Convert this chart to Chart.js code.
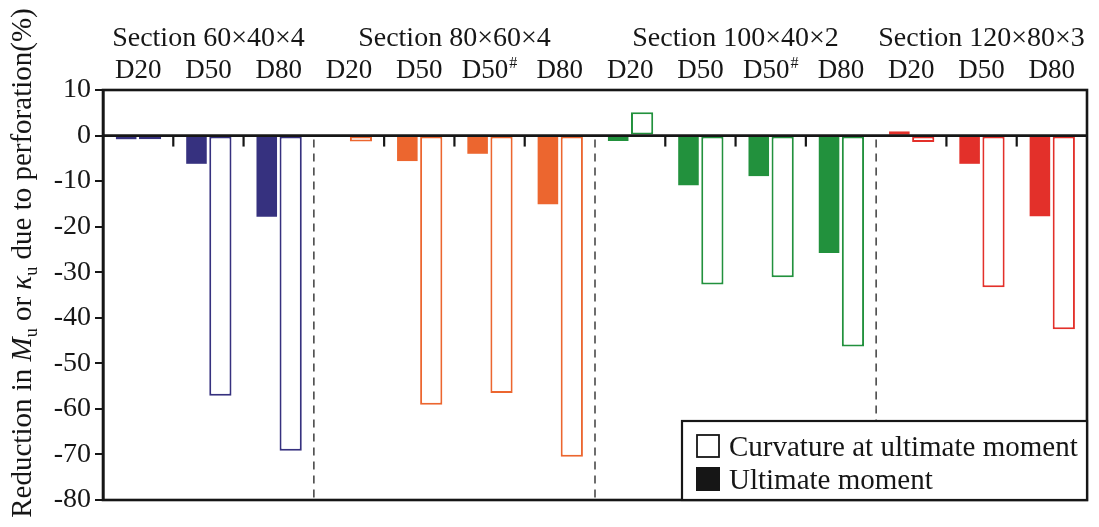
<!DOCTYPE html>
<html>
<head>
<meta charset="utf-8">
<script src="https://cdn.jsdelivr.net/npm/chart.js@4/dist/chart.umd.min.js"></script>
<style>
  html, body { margin: 0; padding: 0; background: #ffffff; }
  #wrap { width: 1099px; height: 527px; position: relative; }
</style>
</head>
<body>
<div id="wrap"><canvas id="chart"></canvas></div>
<script>
// categories (left to right) and the section each block belongs to
const categories = ["D20", "D50", "D80", "D20", "D50", "D50#", "D80", "D20", "D50", "D50#", "D80", "D20", "D50", "D80"];
const sectionNames = ["Section 60\u00d740\u00d74", "Section 80\u00d760\u00d74", "Section 100\u00d740\u00d72", "Section 120\u00d780\u00d73"];
const sectionCounts = [3, 4, 4, 3];
const sectionColors = ["#36317f", "#ec662f", "#22913d", "#e3302a"];

// reduction (%)
const ultimateMoment = [-0.8, -6.2, -17.8, -0.3, -5.6, -4.0, -15.1, -1.2, -10.9, -8.9, -25.8, 0.9, -6.2, -17.7];
const curvature = [-0.8, -57.1, -69.2, -1.3, -59.1, -56.5, -70.5, 5.1, -32.7, -31.1, -46.3, -1.4, -33.3, -42.5];

const yMin = -80;
const yMax = 10;
const yStep = 10;

const legendLabels = ["Curvature at ultimate moment", "Ultimate moment"];

const FONT = "'Liberation Serif', 'Times New Roman', serif";
const INK = "#161616";

// colour for each bar from its section
const barColors = [];
sectionCounts.forEach((n, s) => {
    for (let i = 0; i < n; i++) barColors.push(sectionColors[s]);
});

function drawLabel(ctx, text, cx, baseline, size) {
    // handles the superscript "#" in D50#
    const sup = text.endsWith("#");
    const main = sup ? text.slice(0, -1) : text;
    ctx.font = size + "px " + FONT;
    const w1 = ctx.measureText(main).width;
    ctx.font = Math.round(size * 0.6) + "px " + FONT;
    const w2 = sup ? ctx.measureText("#").width + 1 : 0;
    const x0 = cx - (w1 + w2) / 2;
    ctx.textAlign = "left";
    ctx.font = size + "px " + FONT;
    ctx.fillText(main, x0, baseline);
    if (sup) {
        ctx.font = Math.round(size * 0.6) + "px " + FONT;
        ctx.fillText("#", x0 + w1 + 1, baseline - size * 0.38);
    }
}

const decorations = {
    id: "decorations",
    beforeDatasetsDraw(chart) {
        const { ctx, chartArea: a, scales: { x, y } } = chart;
        const y0 = y.getPixelForValue(0);
        ctx.save();
        ctx.strokeStyle = "#4a4a4a";
        ctx.lineWidth = 1.6;
        ctx.setLineDash([8, 6]);
        let idx = 0;
        for (let s = 0; s < sectionCounts.length - 1; s++) {
            idx += sectionCounts[s];
            const bx = (x.getPixelForValue(idx - 1) + x.getPixelForValue(idx)) / 2;
            ctx.beginPath();
            ctx.moveTo(bx, y0 + 4);
            ctx.lineTo(bx, a.bottom);
            ctx.stroke();
        }
        ctx.restore();
    },
    afterDatasetsDraw(chart) {
        const { ctx, chartArea: a, scales: { x, y } } = chart;
        const y0 = y.getPixelForValue(0);
        ctx.save();
        ctx.strokeStyle = INK;

        // small ticks between categories inside one section
        ctx.lineWidth = 2.2;
        let start = 0;
        sectionCounts.forEach(n => {
            for (let i = start + 1; i < start + n; i++) {
                const bx = (x.getPixelForValue(i - 1) + x.getPixelForValue(i)) / 2;
                ctx.beginPath();
                ctx.moveTo(bx, y0);
                ctx.lineTo(bx, y0 + 11);
                ctx.stroke();
            }
            start += n;
        });

        // zero line
        ctx.lineWidth = 2.8;
        ctx.beginPath();
        ctx.moveTo(a.left, y0);
        ctx.lineTo(a.right, y0);
        ctx.stroke();

        // frame
        ctx.lineWidth = 2.6;
        ctx.strokeRect(a.left, a.top, a.right - a.left, a.bottom - a.top);

        // legend box inside the plot, lower right
        const lx = 682, ly = 421;
        ctx.fillStyle = "#ffffff";
        ctx.fillRect(lx, ly, a.right - lx, a.bottom - ly);
        ctx.lineWidth = 2.2;
        ctx.strokeRect(lx, ly, a.right - lx, a.bottom - ly);

        ctx.lineWidth = 1.8;
        ctx.strokeRect(697, 435, 22, 22);
        ctx.fillStyle = INK;
        ctx.fillRect(696, 467, 24, 24);

        ctx.font = "29px " + FONT;
        ctx.textAlign = "left";
        ctx.textBaseline = "alphabetic";
        ctx.fillText(legendLabels[0], 729, 456);
        ctx.fillText(legendLabels[1], 729, 489);
        ctx.restore();
    },
    afterDraw(chart) {
        const { ctx, scales: { x } } = chart;
        ctx.save();
        ctx.fillStyle = INK;
        ctx.textBaseline = "alphabetic";

        // section titles and specimen labels along the top
        let idx = 0;
        sectionNames.forEach((name, s) => {
            const first = x.getPixelForValue(idx);
            const last = x.getPixelForValue(idx + sectionCounts[s] - 1);
            drawLabel(ctx, name, (first + last) / 2, 46, 28);
            idx += sectionCounts[s];
        });
        categories.forEach((c, i) => {
            drawLabel(ctx, c, x.getPixelForValue(i), 78, 27);
        });

        // rotated y title with italic symbols and subscripts
        const parts = [
            ["Reduction in ", "n"], ["M", "i"], ["u", "s"], [" or ", "n"],
            ["\u03ba", "i"], ["u", "s"], [" due to perforation(%)", "n"]
        ];
        const size = 29;
        const fontFor = t => t === "i" ? "italic " + size + "px " + FONT
            : t === "s" ? Math.round(size * 0.62) + "px " + FONT
            : size + "px " + FONT;
        let total = 0;
        parts.forEach(p => { ctx.font = fontFor(p[1]); total += ctx.measureText(p[0]).width; });
        ctx.translate(31, 263);
        ctx.rotate(-Math.PI / 2);
        let px = -total / 2;
        parts.forEach(p => {
            ctx.font = fontFor(p[1]);
            ctx.fillText(p[0], px, p[1] === "s" ? 6 : 0);
            px += ctx.measureText(p[0]).width;
        });
        ctx.restore();
    }
};

new Chart(document.getElementById("chart"), {
    type: "bar",
    data: {
        labels: categories,
        datasets: [
            {
                label: legendLabels[1],
                data: ultimateMoment,
                backgroundColor: barColors,
                borderWidth: 0,
                barPercentage: 0.86
            },
            {
                label: legendLabels[0],
                data: curvature,
                backgroundColor: "#ffffff",
                borderColor: barColors,
                borderWidth: 2,
                borderSkipped: false,
                barPercentage: 0.93
            }
        ]
    },
    options: {
        responsive: true,
        maintainAspectRatio: false,
        animation: false,
        categoryPercentage: 0.68,
        layout: { padding: { left: 0, right: 12, top: 0, bottom: 27 } },
        plugins: {
            legend: { display: false },
            tooltip: { enabled: false }
        },
        scales: {
            x: {
                position: "top",
                grid: { display: false },
                border: { display: false },
                ticks: { display: false },
                afterFit: s => { s.height = 90; }
            },
            y: {
                min: yMin,
                max: yMax,
                ticks: {
                    stepSize: yStep,
                    color: INK,
                    padding: 4,
                    font: { family: FONT, size: 28 }
                },
                grid: {
                    drawOnChartArea: false,
                    drawTicks: true,
                    tickLength: 8,
                    color: INK,
                    lineWidth: 2
                },
                border: { display: true, color: INK, width: 2.6 },
                afterFit: s => { s.width = 103; }
            }
        }
    },
    plugins: [decorations]
});
</script>
</body>
</html>
